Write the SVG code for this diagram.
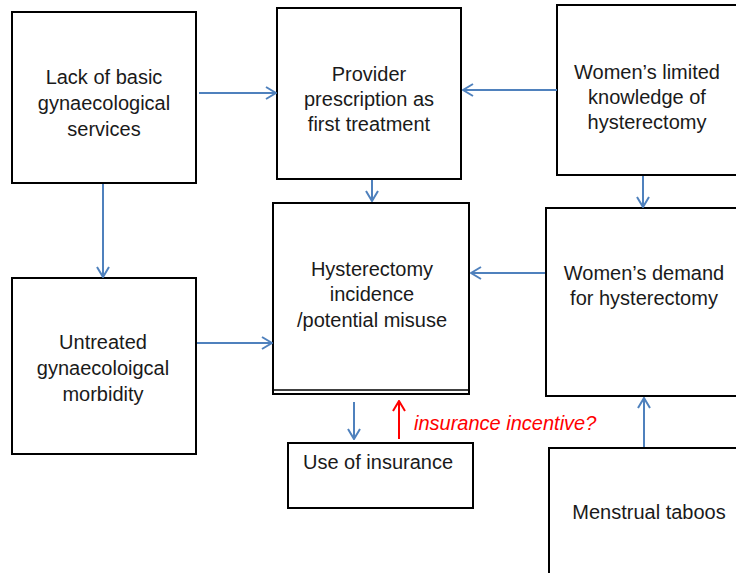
<svg xmlns="http://www.w3.org/2000/svg" width="736" height="573" viewBox="0 0 736 573">
<style>
.box{fill:#fff;stroke:#000;stroke-width:2}
.t{font-family:"Liberation Sans",Arial,sans-serif;font-size:20px;fill:#1a1a1a;text-anchor:middle}
.c{stroke:#4f81bd;stroke-width:2;fill:none}
.r{stroke:#ff0000;stroke-width:2;fill:none}
.lbl{font-family:"Liberation Sans",Arial,sans-serif;font-size:20px;font-style:italic;fill:#ff0000}
</style>
<defs>
<marker id="ab" viewBox="0 0 12 14" refX="11" refY="7" markerWidth="12" markerHeight="14" markerUnits="userSpaceOnUse" orient="auto">
<path d="M1,1 L11,7 L1,13" fill="none" stroke="#4f81bd" stroke-width="2"/>
</marker>
<marker id="ar" viewBox="0 0 12 14" refX="11" refY="7" markerWidth="12" markerHeight="14" markerUnits="userSpaceOnUse" orient="auto">
<path d="M1,1 L11,7 L1,13" fill="none" stroke="#ff0000" stroke-width="2"/>
</marker>
</defs>
<rect width="736" height="573" fill="#fff"/>
<g id="n1"><rect class="box" x="12" y="12" width="184" height="171"/>
<text class="t" x="104" y="84">Lack of basic</text><text class="t" x="104" y="110">gynaecological</text><text class="t" x="104" y="136">services</text></g>
<g id="n2"><rect class="box" x="277" y="8" width="184" height="171"/>
<text class="t" x="369" y="81">Provider</text><text class="t" x="369" y="106">prescription as</text><text class="t" x="369" y="131">first treatment</text></g>
<g id="n3"><rect class="box" x="557" y="5" width="190" height="170"/>
<text class="t" x="647" y="79">Women’s limited</text><text class="t" x="647" y="104">knowledge of</text><text class="t" x="647" y="129">hysterectomy</text></g>
<g id="n4"><rect class="box" x="273" y="203" width="196" height="191"/><line x1="273" y1="390" x2="469" y2="390" stroke="#000" stroke-width="1.5"/>
<text class="t" x="372" y="276">Hysterectomy</text><text class="t" x="372" y="301">incidence</text><text class="t" x="372" y="327">/potential misuse</text></g>
<g id="n5"><rect class="box" x="546" y="208" width="200" height="188"/>
<text class="t" x="644" y="280">Women’s demand</text><text class="t" x="644" y="305">for hysterectomy</text></g>
<g id="n6"><rect class="box" x="549" y="448" width="200" height="135"/>
<text class="t" x="649" y="519">Menstrual taboos</text></g>
<g id="n7"><rect class="box" x="12" y="278" width="184" height="176"/>
<text class="t" x="103" y="349">Untreated</text><text class="t" x="103" y="375">gynaecoloigcal</text><text class="t" x="103" y="401">morbidity</text></g>
<g id="n8"><rect class="box" x="288" y="443" width="185" height="65"/>
<text class="t" x="378" y="469">Use of insurance</text></g>
<g id="connectors">
<line class="c" x1="199" y1="93" x2="276" y2="93" marker-end="url(#ab)"/>
<line class="c" x1="557" y1="90" x2="463" y2="90" marker-end="url(#ab)"/>
<line class="c" x1="372" y1="180" x2="372" y2="201" marker-end="url(#ab)"/>
<line class="c" x1="643" y1="176" x2="643" y2="207" marker-end="url(#ab)"/>
<line class="c" x1="103" y1="184" x2="103" y2="277" marker-end="url(#ab)"/>
<line class="c" x1="197" y1="343" x2="272" y2="343" marker-end="url(#ab)"/>
<line class="c" x1="545" y1="273" x2="471" y2="273" marker-end="url(#ab)"/>
<line class="c" x1="354" y1="402" x2="354" y2="439" marker-end="url(#ab)"/>
<line class="c" x1="644" y1="447" x2="644" y2="398" marker-end="url(#ab)"/>
<line class="r" x1="399" y1="439" x2="399" y2="401" marker-end="url(#ar)"/>
<text class="lbl" x="414" y="430">insurance incentive?</text>
</g>
</svg>
